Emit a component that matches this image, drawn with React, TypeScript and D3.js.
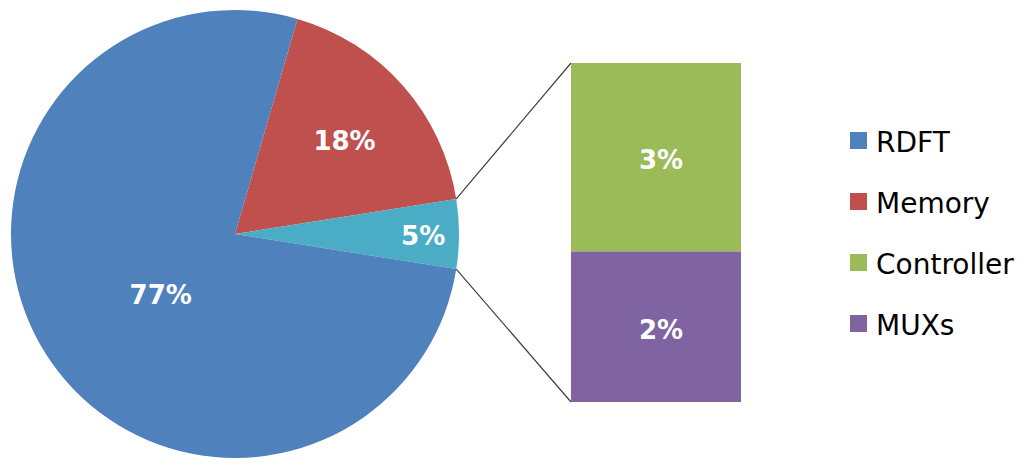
import React from "react";
import * as d3 from "d3";

const pieCategories = ["Memory", "Other", "RDFT"];
const pieValues = [18, 5, 77];
const pieLabels = ["18%", "5%", "77%"];
const barCategories = ["Controller", "MUXs"];
const barValues = [2.78, 2.22];
const barLabels = ["3%", "2%"];
const legendNames = ["RDFT", "Memory", "Controller", "MUXs"];

const colors: Record<string, string> = {
  RDFT: "#4F81BD",
  Memory: "#C0504D",
  Other: "#4BACC6",
  Controller: "#9BBB59",
  MUXs: "#8064A2",
};

const W = 1024;
const H = 472;
const cx = 235;
const cy = 234;
const R = 224;
const labelFrac: Record<string, number> = { RDFT: 0.43, Memory: 0.64, Other: 0.84 };
const labelShift: Record<string, [number, number]> = {
  RDFT: [7, 9],
  Memory: [2, 2],
  Other: [0, 2],
};

export default function App() {
  const otherIdx = pieCategories.indexOf("Other");
  const total = d3.sum(pieValues);
  const before = d3.sum(pieValues.slice(0, otherIdx)) + pieValues[otherIdx] / 2;
  const start = Math.PI / 2 - (before / total) * 2 * Math.PI;
  const pie = d3
    .pie<number>()
    .sort(null)
    .value((d) => d)
    .startAngle(start)
    .endAngle(start + 2 * Math.PI);
  const arcs = pie(pieValues);
  const arc = d3.arc<d3.PieArcDatum<number>>().innerRadius(0).outerRadius(R);

  const barTop = 63;
  const barBottom = 402;
  const barX = 571;
  const barW = 170;
  const barTotal = d3.sum(barValues);
  const y = d3.scaleLinear().domain([0, barTotal]).range([barTop, barBottom]);
  let acc = 0;
  const barRects = barValues.map((v, i) => {
    const r = { name: barCategories[i], y0: y(acc), y1: y(acc + v), label: barLabels[i] };
    acc += v;
    return r;
  });

  const oa = arcs[otherIdx];
  const p1 = [cx + R * Math.sin(oa.startAngle), cy - R * Math.cos(oa.startAngle)];
  const p2 = [cx + R * Math.sin(oa.endAngle), cy - R * Math.cos(oa.endAngle)];

  const legendY = d3.scalePoint<string>().domain(legendNames).range([141, 324]);

  return (
    <svg
      width={W}
      height={H}
      style={{ position: "absolute", left: 0, top: 0, background: "#fff" }}
    >
      <g transform={`translate(${cx},${cy})`}>
        {arcs.map((a, i) => (
          <path key={i} d={arc(a) || ""} fill={colors[pieCategories[i]]} />
        ))}
        {arcs.map((a, i) => {
          const mid = (a.startAngle + a.endAngle) / 2;
          const name = pieCategories[i];
          const r = R * labelFrac[name];
          const [sx, sy] = labelShift[name];
          return (
            <text
              key={"l" + i}
              x={r * Math.sin(mid) + sx}
              y={-r * Math.cos(mid) + sy}
              textAnchor="middle"
              dominantBaseline="central"
              fill="#fff"
              fontFamily="DejaVu Sans"
              fontWeight="bold"
              fontSize={26}
            >
              {pieLabels[i]}
            </text>
          );
        })}
      </g>
      <line x1={p1[0]} y1={p1[1]} x2={barX} y2={barTop} stroke="#404040" strokeWidth={1.2} />
      <line x1={p2[0]} y1={p2[1]} x2={barX} y2={barBottom} stroke="#404040" strokeWidth={1.2} />
      {barRects.map((b) => (
        <g key={b.name}>
          <rect x={barX} y={b.y0} width={barW} height={b.y1 - b.y0} fill={colors[b.name]} />
          <text
            x={barX + barW / 2 + 5}
            y={(b.y0 + b.y1) / 2 + 3}
            textAnchor="middle"
            dominantBaseline="central"
            fill="#fff"
            fontFamily="DejaVu Sans"
            fontWeight="bold"
            fontSize={26}
          >
            {b.label}
          </text>
        </g>
      ))}
      {legendNames.map((n) => (
        <g key={n} transform={`translate(850,${legendY(n)})`}>
          <rect x={0} y={-9} width={17} height={17} fill={colors[n]} />
          <text
            x={26}
            y={1}
            dominantBaseline="central"
            fill="#000"
            fontFamily="DejaVu Sans"
            fontSize={28}
          >
            {n}
          </text>
        </g>
      ))}
    </svg>
  );
}
